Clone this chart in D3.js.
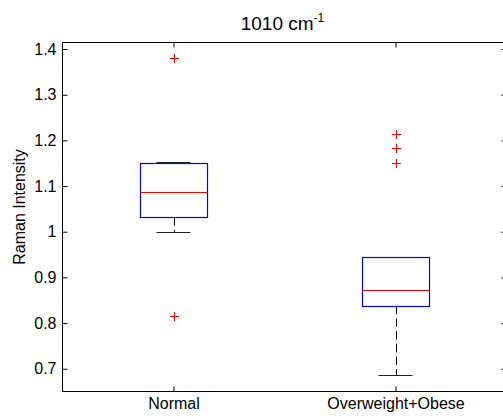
<!DOCTYPE html>
<html>
<head>
<meta charset="utf-8">
<script src="https://cdn.jsdelivr.net/npm/d3@7"></script>
<style>
  html, body { margin: 0; padding: 0; background: #fff; }
  svg { display: block; }
  text { font-family: "Liberation Sans", Arial, sans-serif; fill: #000; }
</style>
</head>
<body>
<svg id="chart" width="503" height="417"></svg>
<script>
// Box statistics per group (Raman intensity at 1010 cm^-1)
const groups = ["Normal", "Overweight+Obese"];
const q1 = [1.032, 0.838];
const median = [1.087, 0.873];
const q3 = [1.150, 0.945];
const whiskerLow = [1.000, 0.686];
const whiskerHigh = [1.152, 0.945];
const outliers = [[1.380, 0.816], [1.214, 1.184, 1.151]];
const yTicks = [0.7, 0.8, 0.9, 1.0, 1.1, 1.2, 1.3, 1.4];
const yLabels = ["0.7", "0.8", "0.9", "1", "1.1", "1.2", "1.3", "1.4"];

const svg = d3.select("#chart");
const plotLeft = 62.5, plotRight = 506.5, plotTop = 42.5, plotBottom = 391.5;

// Group positions 1..n on a linear axis, as a boxplot does
const x = d3.scaleLinear().domain([0.5, 2.5]).range([plotLeft, plotRight]);
const y = d3.scaleLinear().domain([0.6502, 1.4143]).range([plotBottom, plotTop]);

const boxHalf = 0.153;   // half box width in group units
const capHalf = 0.0766;  // half whisker-cap width
const tickLen = 5;

const plot = svg.append("g");

groups.forEach((g, i) => {
  const cx = Math.round(x(i + 1)) + 0.5;
  const gg = plot.append("g");

  // dashed whiskers
  gg.append("line")
    .attr("x1", cx).attr("x2", cx)
    .attr("y1", y(q1[i])).attr("y2", y(whiskerLow[i]))
    .attr("stroke", "#000").attr("stroke-width", 1)
    .attr("stroke-dasharray", "8.5,4.2");
  gg.append("line")
    .attr("x1", cx).attr("x2", cx)
    .attr("y1", y(q3[i])).attr("y2", y(whiskerHigh[i]))
    .attr("stroke", "#000").attr("stroke-width", 1)
    .attr("stroke-dasharray", "8.5,4.2");

  // whisker caps
  [whiskerLow[i], whiskerHigh[i]].forEach(v => {
    gg.append("line")
      .attr("x1", x(i + 1 - capHalf)).attr("x2", x(i + 1 + capHalf))
      .attr("y1", Math.round(y(v)) + 0.5).attr("y2", Math.round(y(v)) + 0.5)
      .attr("stroke", "#222").attr("stroke-width", 1);
  });

  // box
  const bx0 = Math.round(x(i + 1 - boxHalf)) + 0.5;
  const bx1 = Math.round(x(i + 1 + boxHalf)) + 0.5;
  const by0 = Math.round(y(q3[i])) + 0.5;
  const by1 = Math.round(y(q1[i])) + 0.5;
  gg.append("rect")
    .attr("x", bx0).attr("y", by0)
    .attr("width", bx1 - bx0).attr("height", by1 - by0)
    .attr("fill", "none").attr("stroke", "#0000ff").attr("stroke-width", 1.2);

  // median
  gg.append("line")
    .attr("x1", bx0).attr("x2", bx1)
    .attr("y1", Math.round(y(median[i])) + 0.5).attr("y2", Math.round(y(median[i])) + 0.5)
    .attr("stroke", "#ff0000").attr("stroke-width", 1);

  // outliers as red plus markers
  outliers[i].forEach(v => {
    const py = Math.round(y(v)) + 0.5;
    gg.append("path")
      .attr("d", `M${cx - 4.5},${py}H${cx + 4.5}M${cx},${py - 4.5}V${py + 4.5}`)
      .attr("stroke", "#ff0000").attr("stroke-width", 1.1).attr("fill", "none");
  });
});

// Axes frame with inward ticks on all four sides
svg.append("rect")
  .attr("x", plotLeft).attr("y", plotTop)
  .attr("width", plotRight - plotLeft).attr("height", plotBottom - plotTop)
  .attr("fill", "none").attr("stroke", "#000").attr("stroke-width", 1);

const fontFam = "'Liberation Sans', Arial, sans-serif";

const yAxisL = d3.axisLeft(y).tickValues(yTicks).tickSizeInner(-tickLen).tickSizeOuter(0)
  .tickFormat((d, k) => yLabels[k]).tickPadding(6);
const gl = svg.append("g").attr("transform", `translate(${plotLeft},0)`).call(yAxisL);
gl.select(".domain").remove();
gl.selectAll(".tick line").attr("stroke", "#000");
gl.selectAll(".tick text").style("font-size", "16px").style("font-family", fontFam).attr("fill", "#111");

const yAxisR = d3.axisRight(y).tickValues(yTicks).tickSizeInner(-tickLen).tickSizeOuter(0).tickFormat("");
const gr = svg.append("g").attr("transform", `translate(${plotRight},0)`).call(yAxisR);
gr.select(".domain").remove();
gr.selectAll(".tick line").attr("stroke", "#000");

const xAxisB = d3.axisBottom(x).tickValues([1, 2]).tickSizeInner(-tickLen).tickSizeOuter(0)
  .tickFormat((d) => groups[d - 1]).tickPadding(6);
const gb = svg.append("g").attr("transform", `translate(0,${plotBottom})`).call(xAxisB);
gb.select(".domain").remove();
gb.selectAll(".tick line").attr("stroke", "#000");
gb.selectAll(".tick text").style("font-size", "16px").style("font-family", fontFam).attr("fill", "#111");

const xAxisT = d3.axisTop(x).tickValues([1, 2]).tickSizeInner(-tickLen).tickSizeOuter(0).tickFormat("");
const gt = svg.append("g").attr("transform", `translate(0,${plotTop})`).call(xAxisT);
gt.select(".domain").remove();
gt.selectAll(".tick line").attr("stroke", "#000");

// y-axis title
svg.append("text")
  .attr("transform", `translate(25,${(plotTop + plotBottom) / 2 - 10}) rotate(-90)`)
  .attr("text-anchor", "middle")
  .style("font-size", "16px")
  .attr("fill", "#111")
  .text("Raman Intensity");

// chart title with superscript
const title = svg.append("text")
  .attr("x", (plotLeft + plotRight) / 2 - 2)
  .attr("y", 30)
  .attr("text-anchor", "middle")
  .style("font-size", "19px");
title.append("tspan").text("1010 cm");
title.append("tspan").attr("dy", -8).style("font-size", "12px").text("-1");
</script>
</body>
</html>
